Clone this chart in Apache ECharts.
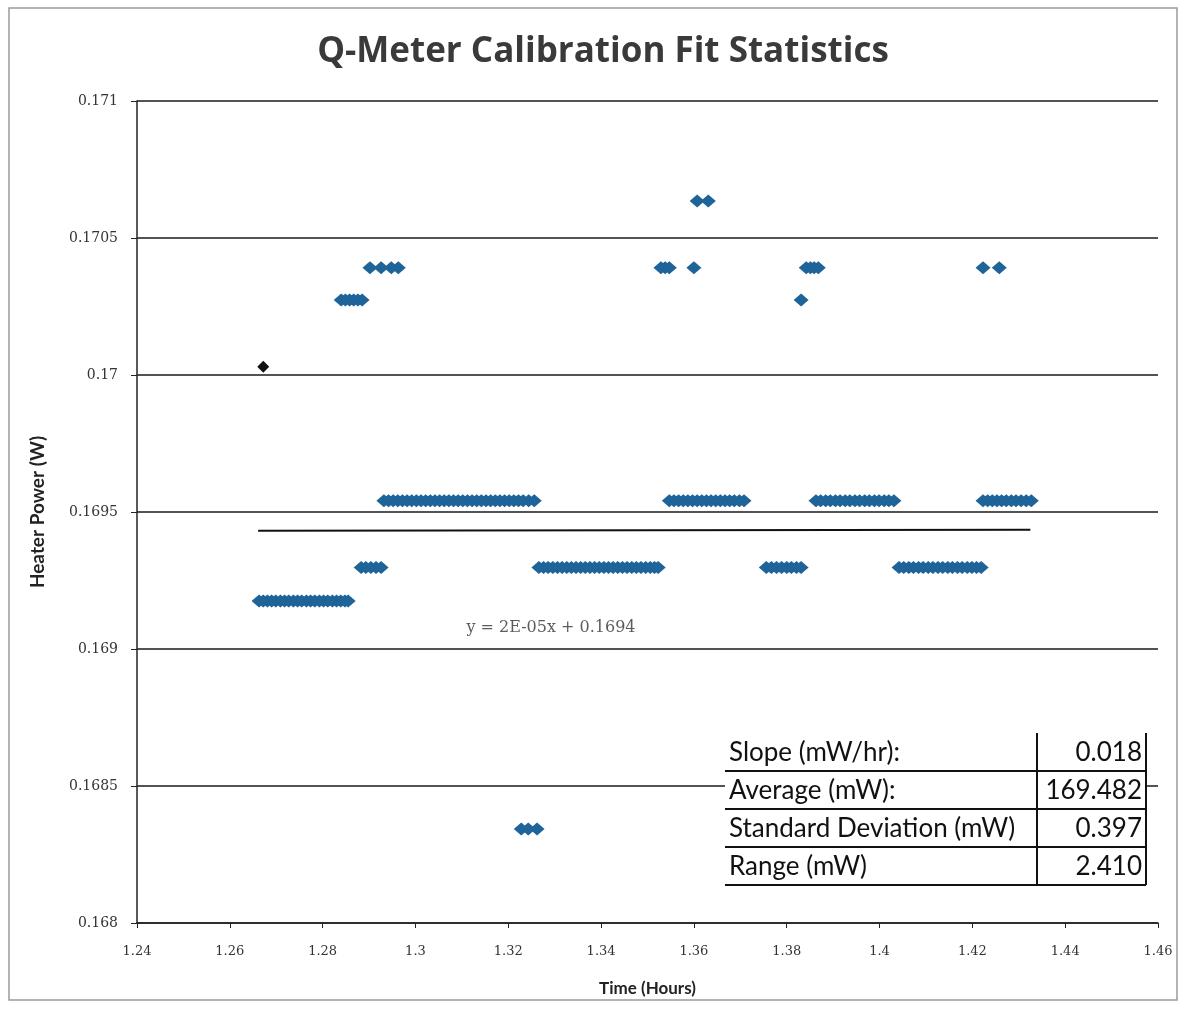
<!DOCTYPE html>
<html>
<head>
<meta charset="utf-8">
<script src="https://cdn.jsdelivr.net/npm/echarts@6/dist/echarts.min.js"></script>
<style>
html,body{margin:0;padding:0;background:#fff;}
#chart{width:1186px;height:1010px;}
</style>
</head>
<body>
<div id="chart"></div>
<script>
// Quantized power levels (W)
const powerLow = 0.169175;
const powerMidLow = 0.169297;
const powerMid = 0.169541;
const powerHighA = 0.170274;
const powerHighB = 0.170391;
const powerTop = 0.170635;
const powerOutlier = 0.168343;

// Times (hours) of points at each level
const timesLow = [1.2663,1.2672,1.2681,1.2690,1.2699,1.2709,1.2718,1.2727,1.2737,1.2746,1.2755,1.2765,1.2774,1.2783,1.2793,1.2802,1.2811,1.2821,1.2830,1.2839,1.2848,1.2855];
const timesMidLow = [1.2883,1.2893,1.2904,1.2915,1.2926,
  1.3266,1.3276,1.3286,1.3296,1.3306,1.3316,1.3326,1.3336,1.3346,1.3356,1.3366,1.3376,1.3386,1.3396,1.3406,1.3416,1.3426,1.3436,1.3446,1.3456,1.3466,1.3476,1.3486,1.3496,1.3506,1.3515,1.3523,
  1.3756,1.3767,1.3778,1.3789,1.3800,1.3810,1.3821,1.3831,
  1.4042,1.4052,1.4063,1.4073,1.4084,1.4094,1.4105,1.4115,1.4126,1.4136,1.4147,1.4157,1.4168,1.4178,1.4189,1.4199,1.4209,1.4219];
const timesMid = [1.2932,1.2942,1.2952,1.2962,1.2972,1.2982,1.2992,1.3002,1.3012,1.3022,1.3032,1.3042,1.3052,1.3062,1.3072,1.3082,1.3092,1.3102,1.3112,1.3122,1.3132,1.3142,1.3152,1.3162,1.3172,1.3182,1.3192,1.3202,1.3212,1.3222,1.3232,1.3244,1.3256,
  1.3547,1.3557,1.3567,1.3577,1.3587,1.3597,1.3607,1.3617,1.3627,1.3637,1.3647,1.3657,1.3667,1.3677,1.3687,1.3698,1.3708,
  1.3863,1.3873,1.3884,1.3894,1.3905,1.3915,1.3926,1.3936,1.3947,1.3957,1.3968,1.3978,1.3989,1.3999,1.4010,1.4020,1.4031,
  1.4223,1.4233,1.4243,1.4253,1.4263,1.4273,1.4284,1.4294,1.4305,1.4316,1.4327];
const timesHighA = [1.2840,1.2849,1.2858,1.2867,1.2876,1.2885,1.3831];
const timesHighB = [1.2902,1.2926,1.2948,1.2963,1.3529,1.3538,1.3547,1.3600,1.3842,1.3851,1.3859,1.3868,1.4223,1.4258];
const timesTop = [1.3607,1.3631];
const timesOutlier = [1.3228,1.3243,1.3262];

// First (highlighted) point
const firstPoint = [1.2672, 0.17003];

// Linear trend line
const trendTimes = [1.2661, 1.4325];
const trendPower = [0.169432, 0.169435];
const trendLabel = 'y = 2E-05x + 0.1694';
const trendLabelAt = [1.3292, 0.169077];

// Summary table
const statNames = ['Slope (mW/hr):', 'Average (mW):', 'Standard Deviation (mW)', 'Range (mW)'];
const statValues = ['0.018', '169.482', '0.397', '2.410'];

const groups = [
  [timesLow, powerLow], [timesMidLow, powerMidLow], [timesMid, powerMid],
  [timesHighA, powerHighA], [timesHighB, powerHighB], [timesTop, powerTop], [timesOutlier, powerOutlier]
];
const pts = [];
groups.forEach(g => g[0].forEach(t => pts.push([t, g[1]])));

const chart = echarts.init(document.getElementById('chart'));

const tableLeft = 725, tableRight = 1146, colX = 1037, tableTop = 733, rowH = 38;
const graphics = [
  {type:'rect', shape:{x:9,y:8,width:1168,height:992}, style:{fill:'none', stroke:'#9a9a9a', lineWidth:1.5}, z:0},
  {type:'text', x:603, y:52, style:{text:'Q-Meter Calibration Fit Statistics', font:'bold 35px "Open Sans"', fill:'#3a3a3a', align:'center', verticalAlign:'middle'}, z:12},
  {type:'rect', shape:{x:tableLeft,y:tableTop,width:tableRight-tableLeft,height:rowH*4}, style:{fill:'#fff'}, z:10},
  {type:'line', shape:{x1:colX,y1:tableTop,x2:colX,y2:tableTop+rowH*4}, style:{stroke:'#111', lineWidth:2}, z:11},
  {type:'line', shape:{x1:tableRight,y1:tableTop,x2:tableRight,y2:tableTop+rowH*4}, style:{stroke:'#111', lineWidth:2}, z:11}
];
statNames.forEach((n, i) => {
  const yb = tableTop + rowH * (i + 1);
  graphics.push({type:'line', shape:{x1:tableLeft,y1:yb,x2:tableRight,y2:yb}, style:{stroke:'#111', lineWidth:2}, z:11});
  graphics.push({type:'text', x:tableLeft+4, y:yb-rowH/2+1, style:{text:n, font:'26px Lato', fill:'#111', verticalAlign:'middle'}, z:12});
  graphics.push({type:'text', x:tableRight-4, y:yb-rowH/2+1, style:{text:statValues[i], font:'26px Lato', fill:'#111', align:'right', verticalAlign:'middle'}, z:12});
});

chart.setOption({
  animation: false,
  backgroundColor: '#fff',
  grid: {left:137, right:28, top:101, bottom:87},
  xAxis: {
    type:'value', min:1.24, max:1.46, interval:0.02,
    name:'Time (Hours)', nameLocation:'middle', nameGap:57,
    nameTextStyle:{fontFamily:'Lato', fontWeight:'bold', fontSize:17, color:'#222'},
    axisLine:{show:true, lineStyle:{color:'#222', width:1.5}},
    axisTick:{show:true, length:5, lineStyle:{color:'#222'}},
    axisLabel:{fontFamily:'DejaVu Serif', fontSize:13, color:'#333', margin:22,
      formatter: v => String(parseFloat(v.toFixed(2)))},
    splitLine:{show:false}
  },
  yAxis: {
    type:'value', min:0.168, max:0.171, interval:0.0005,
    name:'Heater Power (W)', nameLocation:'middle', nameGap:90, nameRotate:90,
    nameTextStyle:{fontFamily:'Lato', fontWeight:'bold', fontSize:19, color:'#222'},
    axisLine:{show:true, lineStyle:{color:'#222', width:1.5}},
    axisTick:{show:true, length:6, lineStyle:{color:'#222'}},
    axisLabel:{fontFamily:'DejaVu Serif', fontSize:14, color:'#333', margin:19,
      formatter: v => String(parseFloat(v.toFixed(4)))},
    splitLine:{show:true, lineStyle:{color:'#1a1a1a', width:1.5}}
  },
  graphic: graphics,
  series: [
    {
      type:'scatter', data: pts, symbol:'diamond', symbolSize:[15,13],
      itemStyle:{color:'#1f6499', opacity:1}, z:3
    },
    {
      type:'scatter', data:[firstPoint], symbol:'diamond', symbolSize:[12,12],
      itemStyle:{color:'#111', opacity:1}, z:4
    },
    {
      type:'line', data: trendTimes.map((t, i) => [t, trendPower[i]]),
      symbol:'none', lineStyle:{color:'#111', width:2}, z:2
    },
    {
      type:'scatter', data:[trendLabelAt], symbolSize:0,
      label:{show:true, position:'inside', formatter: trendLabel,
        fontFamily:'DejaVu Serif', fontSize:16, color:'#333'}, z:5
    }
  ]
});
</script>
</body>
</html>
